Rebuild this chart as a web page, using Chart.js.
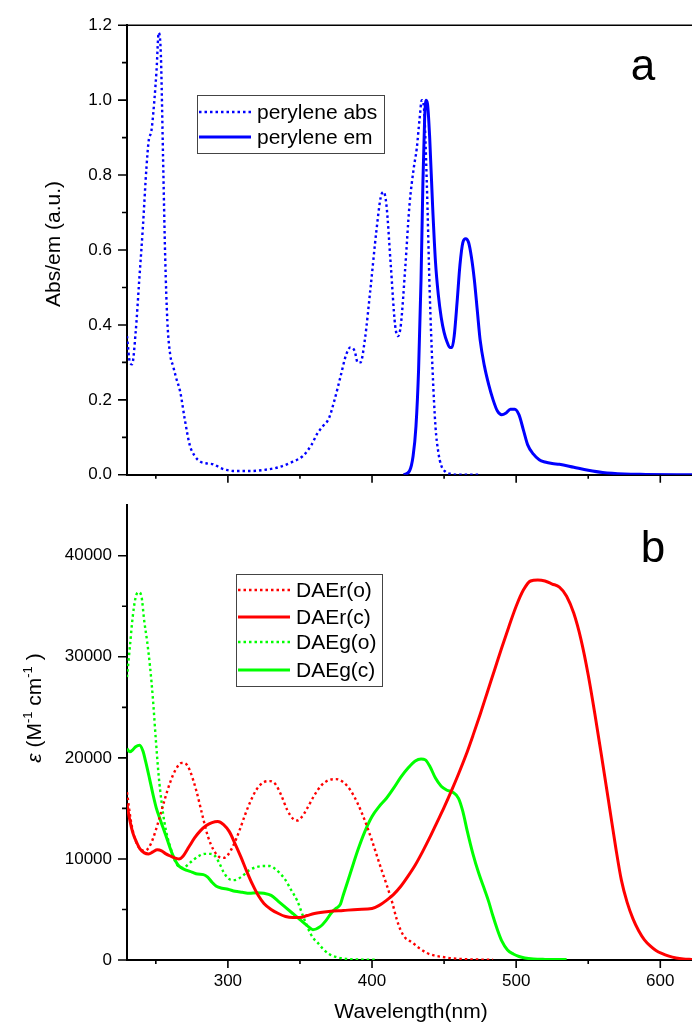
<!DOCTYPE html>
<html>
<head>
<meta charset="utf-8">
<script src="https://cdn.jsdelivr.net/npm/chart.js@4.4.0/dist/chart.umd.min.js"></script>
<style>
  html, body { margin: 0; padding: 0; background: #fff; }
  #wrap { position: relative; width: 692px; height: 1028px; }
  #cA { position: absolute; left: 0; top: 0; }
  #cB { position: absolute; left: 0; top: 480px; }
</style>
</head>
<body>
<div id="wrap">
  <canvas id="cA" width="692" height="500"></canvas>
  <canvas id="cB" width="692" height="548"></canvas>
</div>
<script>
// ---- data ----
// panel a: perylene absorption (dotted) and emission (solid), normalised
const perAbsNm  = [230,232,233.5,236,238.5,241,243.5,245,247,249,250.5,252,253.5,255,256.5,258,260,262,264,267,270,273.5,277,281,286,290,295,299,305,315,325,335,345,352,358,362,366,370,374,378,382,385,388,390,392,395,399,403,406,408,410,413,416,418,420,423,426,429,431,433,434.5,436,438,440,442,444,446,448,451,455,460,470,475];
const perAbsVal = [0.37,0.30,0.295,0.38,0.52,0.66,0.82,0.89,0.92,1.00,1.08,1.18,1.12,0.85,0.58,0.41,0.32,0.29,0.26,0.22,0.15,0.08,0.05,0.035,0.03,0.028,0.018,0.013,0.01,0.01,0.013,0.02,0.035,0.05,0.08,0.11,0.13,0.15,0.2,0.26,0.32,0.34,0.33,0.30,0.30,0.36,0.5,0.65,0.74,0.755,0.72,0.56,0.40,0.37,0.40,0.55,0.72,0.82,0.87,0.95,1.0,0.98,0.78,0.49,0.28,0.13,0.06,0.025,0.008,0.002,0,0,0];
const perEmNm   = [422,426,428.5,430.5,432.3,434,435.3,436.5,437.4,438.5,440,442,444,446,448,450,452,454,455.5,457,459,461,463,465,467,469,471,473,475,478,481,484,487,490,493,496,499,502,505,508,512,516,520,525,530,540,550,560,575,590,622];
const perEmVal  = [0,0.01,0.05,0.13,0.28,0.52,0.78,0.95,1.0,0.99,0.9,0.72,0.57,0.48,0.42,0.38,0.355,0.34,0.34,0.37,0.46,0.56,0.62,0.63,0.62,0.58,0.52,0.44,0.36,0.29,0.24,0.20,0.17,0.16,0.165,0.175,0.175,0.16,0.12,0.08,0.055,0.04,0.034,0.03,0.028,0.02,0.012,0.006,0.002,0.001,0];

// panel b: extinction coefficients (M^-1 cm^-1)
const daerONm  = [230,231,233,236,239,242,245,248,252,256,260,264,268,271,274,278,282,286,290,294,297,300,304,308,312,316,320,325,329,333,337,341,345,348,351,355,360,365,370,375,380,385,390,395,400,405,410,414,417,420,423,426,429,433,438,443,449,455,465,475,484];
const daerOVal = [16600,15500,13500,11800,11000,10800,11100,12000,13800,15800,17600,18900,19500,19400,18600,16800,14500,12300,10900,10200,10100,10400,11400,12800,14400,15800,16900,17600,17700,17400,16300,14900,14000,13800,14100,15000,16300,17300,17800,17900,17600,16800,15500,13800,11800,9600,7500,5700,4100,2900,2200,1900,1600,1150,700,450,300,180,80,40,30];
const daerCNm  = [230,232,234,236.5,239,242,245,248,251,254,257,260,263,266,269,273,277,281,285,289,293,297,301,305,309,313,317,321,325,330,335,340,345,350,355,360,370,380,390,400,405,410,415,420,425,430,435,440,445,450,455,460,465,470,475,480,485,490,495,500,505,510,515,520,525,530,535,540,545,550,555,560,565,569,573,577,581,585,589,593,597,601,606,611,616,622];
const daerCVal = [15400,13800,12600,11700,11000,10600,10500,10700,10900,10800,10500,10300,10100,10000,10300,11200,12100,12800,13300,13600,13700,13400,12700,11500,10200,8800,7500,6400,5600,5000,4600,4300,4200,4200,4400,4600,4800,4900,5000,5100,5400,5900,6500,7300,8300,9400,10700,12100,13600,15100,16700,18400,20200,22200,24300,26500,28700,30900,33000,35000,36600,37500,37600,37500,37200,36900,36000,34300,31700,28200,24000,19500,14900,11200,7900,5700,4100,2900,2000,1400,950,650,380,200,100,50];
const daegONm  = [230,232,234,236,238,240,242,244,246,248,250,252,254,256,258,260,263,266,269,272,276,280,284,288,291,294,297,300,303,306,310,315,320,325,329,332,336,340,344,348,352,356,359,362,366,370,375,380,385,390,395,404];
const daegOVal = [28000,31000,34000,35900,36400,36000,33500,31500,29000,25800,21800,18200,15600,13600,12200,11200,9900,9200,9100,9400,9900,10300,10500,10500,10300,9600,8700,8100,7900,7950,8300,8900,9200,9300,9300,9100,8600,7900,6900,5900,4400,3000,2200,1750,1100,600,300,150,80,50,40,30];
const daegCNm  = [230,232,234,236,238.8,241,243,245.7,248,250.4,253,255,257.5,259.6,262,265.4,268,271,275,279,283,286,289,292,296,300,305,310,315,320,325,330,335,340,345,350,355,359,364,368,372,375,378,380,385,390,395,400,405,410,415,420,425,430,434,437,440,444,448,452,456,460,463,466,470,474,478,481,484,487,490,494,498,502,506,512,520,535];
const daegCVal = [20900,20600,20800,21100,21250,20700,19600,17900,16400,15000,13900,13100,12100,11200,10300,9400,9100,8900,8700,8500,8450,8200,7700,7300,7100,7000,6800,6700,6600,6650,6600,6400,5800,5200,4600,4000,3400,3000,3300,3900,4700,5100,5500,6400,8600,10800,12700,14200,15200,16000,17000,18100,19000,19700,19900,19800,19200,18000,17200,16800,16600,16000,14700,12800,10500,8600,7000,5750,4300,3000,1900,1000,600,350,200,100,60,40];

const xMin = 230, xMax = 622;

const pts = (xs, ys) => xs.map((x, i) => ({ x: x, y: ys[i] }));
const DOT = [2.5, 3];
const FONT = '"Liberation Sans", Arial, Helvetica, sans-serif';

Chart.defaults.font.family = FONT;
Chart.defaults.font.size = 17;
Chart.defaults.color = '#000';

// major/minor tick marks pointing outward, plus extra frame lines
const outTicks = {
  id: 'outTicks',
  afterDraw(chart, args, o) {
    const ctx = chart.ctx, a = chart.chartArea;
    const isMajor = (v, s) => Math.abs(v / s - Math.round(v / s)) < 1e-6;
    ctx.save();
    ctx.strokeStyle = '#000';
    ctx.lineWidth = 1.6;
    ctx.beginPath();
    chart.scales.x.ticks.forEach(t => {
      const px = chart.scales.x.getPixelForValue(t.value);
      const len = isMajor(t.value, o.xMajor) ? 8 : 4;
      ctx.moveTo(px, a.bottom);
      ctx.lineTo(px, a.bottom + len);
    });
    chart.scales.y.ticks.forEach(t => {
      const py = chart.scales.y.getPixelForValue(t.value);
      const len = isMajor(t.value, o.yMajor) ? 9 : 5;
      ctx.moveTo(a.left, py);
      ctx.lineTo(a.left - len, py);
    });
    if (o.topLine) {
      ctx.moveTo(a.left, a.top);
      ctx.lineTo(a.right, a.top);
    }
    ctx.stroke();
    ctx.restore();
  }
};

// boxed legend placed inside the plot, plus panel letter and axis titles
const decor = {
  id: 'decor',
  afterDraw(chart, args, o) {
    const ctx = chart.ctx;
    ctx.save();
    const lg = o.legend;
    ctx.strokeStyle = '#444';
    ctx.lineWidth = 1;
    ctx.strokeRect(lg.x + 0.5, lg.y + 0.5, lg.w, lg.h);
    ctx.font = '21px ' + FONT;
    ctx.textBaseline = 'middle';
    ctx.textAlign = 'left';
    chart.data.datasets.forEach((ds, i) => {
      const y = lg.rows[i];
      ctx.strokeStyle = ds.borderColor;
      ctx.lineWidth = ds.borderWidth;
      ctx.setLineDash(ds.borderDash || []);
      ctx.beginPath();
      ctx.moveTo(lg.x0, y);
      ctx.lineTo(lg.x1, y);
      ctx.stroke();
      ctx.setLineDash([]);
      ctx.fillStyle = '#000';
      ctx.fillText(ds.label, lg.tx, y + 1);
    });
    // panel letter
    ctx.font = '44px ' + FONT;
    ctx.textAlign = 'center';
    ctx.textBaseline = 'alphabetic';
    ctx.fillText(o.letter.text, o.letter.x, o.letter.y);
    // y title (rotated, made of runs so that superscripts can be drawn)
    const yt = o.yTitle;
    ctx.translate(yt.x, yt.y);
    ctx.rotate(-Math.PI / 2);
    const runs = yt.runs.map(r => {
      const f = (r.italic ? 'italic ' : '') + (r.sup ? '13px ' : '21px ') + FONT;
      ctx.font = f;
      return { f: f, t: r.t, sup: r.sup, w: ctx.measureText(r.t).width };
    });
    const total = runs.reduce((s, r) => s + r.w, 0);
    let cx = -total / 2;
    runs.forEach(r => {
      ctx.font = r.f;
      ctx.textAlign = 'left';
      ctx.fillText(r.t, cx, r.sup ? -1 : 7.5);
      cx += r.w;
    });
    ctx.restore();
    if (o.xTitle) {
      ctx.save();
      ctx.font = '21px ' + FONT;
      ctx.textAlign = 'center';
      ctx.textBaseline = 'middle';
      ctx.fillStyle = '#000';
      ctx.fillText(o.xTitle.t, o.xTitle.x, o.xTitle.y);
      ctx.restore();
    }
  }
};

const xScale = (showLabels, h) => ({
  type: 'linear', min: xMin, max: xMax,
  ticks: {
    stepSize: 50, includeBounds: false, display: showLabels, padding: 11, maxRotation: 0,
    autoSkip: false,
    callback: v => (Math.round(v) % 100 === 0 ? String(Math.round(v)) : '')
  },
  grid: { drawOnChartArea: false, drawTicks: false },
  border: { display: true, color: '#000', width: 2 },
  afterFit: s => { s.height = h; }
});

// ---- panel a ----
new Chart(document.getElementById('cA'), {
  type: 'line',
  data: {
    datasets: [
      { label: 'perylene abs', data: pts(perAbsNm, perAbsVal), borderColor: '#0000ff', borderWidth: 2.4, borderDash: DOT, pointRadius: 0, cubicInterpolationMode: 'monotone', fill: false },
      { label: 'perylene em', data: pts(perEmNm, perEmVal), borderColor: '#0000ff', borderWidth: 3, pointRadius: 0, cubicInterpolationMode: 'monotone', fill: false }
    ]
  },
  options: {
    responsive: false, animation: false,
    layout: { padding: { top: 20, left: 0, right: 0, bottom: 0 } },
    plugins: {
      legend: { display: false }, tooltip: { enabled: false },
      outTicks: { xMajor: 100, yMajor: 0.2, topLine: true },
      decor: {
        legend: { x: 197, y: 95, w: 187, h: 58, rows: [112, 137], x0: 199, x1: 251, tx: 257 },
        letter: { text: 'a', x: 643, y: 80 },
        yTitle: { x: 52, y: 244, runs: [{ t: 'Abs/em (a.u.)' }] }
      }
    },
    scales: {
      x: xScale(false, 10),
      y: {
        type: 'linear', min: 0, max: 1.2,
        ticks: {
          stepSize: 0.1, padding: 15, autoSkip: false,
          callback: v => (Math.round(v * 10) % 2 === 0 ? v.toFixed(1) : '')
        },
        grid: { drawOnChartArea: false, drawTicks: false },
        border: { display: true, color: '#000', width: 2 },
        afterFit: s => { s.width = 127; }
      }
    }
  },
  plugins: [outTicks, decor]
});

// ---- panel b ----
new Chart(document.getElementById('cB'), {
  type: 'line',
  data: {
    datasets: [
      { label: 'DAEr(o)', data: pts(daerONm, daerOVal), borderColor: '#ff0000', borderWidth: 2.4, borderDash: DOT, pointRadius: 0, cubicInterpolationMode: 'monotone', fill: false },
      { label: 'DAEr(c)', data: pts(daerCNm, daerCVal), borderColor: '#ff0000', borderWidth: 3, pointRadius: 0, cubicInterpolationMode: 'monotone', fill: false },
      { label: 'DAEg(o)', data: pts(daegONm, daegOVal), borderColor: '#00ff00', borderWidth: 2.4, borderDash: DOT, pointRadius: 0, cubicInterpolationMode: 'monotone', fill: false },
      { label: 'DAEg(c)', data: pts(daegCNm, daegCVal), borderColor: '#00ff00', borderWidth: 3, pointRadius: 0, cubicInterpolationMode: 'monotone', fill: false }
    ]
  },
  options: {
    responsive: false, animation: false,
    layout: { padding: { top: 10, left: 0, right: 0, bottom: 0 } },
    plugins: {
      legend: { display: false }, tooltip: { enabled: false },
      outTicks: { xMajor: 100, yMajor: 10000, topLine: false },
      decor: {
        legend: { x: 236, y: 94, w: 146, h: 112, rows: [110, 137, 162, 190], x0: 238, x1: 290, tx: 296 },
        letter: { text: 'b', x: 653, y: 82 },
        yTitle: { x: 33, y: 228, runs: [{ t: 'ε', italic: true }, { t: ' (M' }, { t: '-1', sup: true }, { t: ' cm' }, { t: '-1', sup: true }, { t: ' )' }] },
        xTitle: { t: 'Wavelength(nm)', x: 411, y: 532 }
      }
    },
    scales: {
      x: xScale(true, 68),
      y: {
        type: 'linear', min: 0, max: 45000,
        ticks: {
          stepSize: 5000, padding: 15, autoSkip: false, includeBounds: false,
          callback: v => (v % 10000 === 0 ? String(v) : '')
        },
        afterBuildTicks: s => { s.ticks = s.ticks.filter(t => t.value <= 40000); },
        grid: { drawOnChartArea: false, drawTicks: false },
        border: { display: true, color: '#000', width: 2 },
        afterFit: s => { s.width = 127; }
      }
    }
  },
  plugins: [outTicks, decor]
});
</script>
</body>
</html>
